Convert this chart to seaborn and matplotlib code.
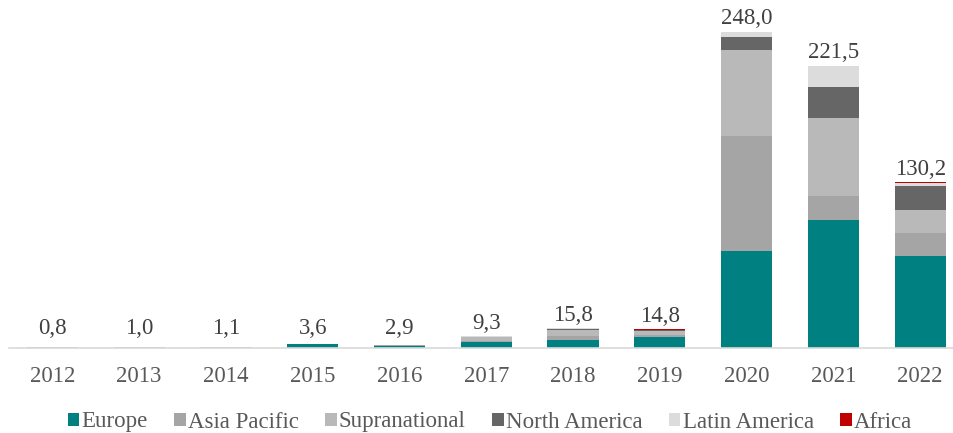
import numpy as np
import pandas as pd
import matplotlib
matplotlib.use("Agg")
import matplotlib.pyplot as plt
import seaborn as sns
from matplotlib.patches import Patch

years = ["2012", "2013", "2014", "2015", "2016", "2017", "2018", "2019", "2020", "2021", "2022"]
europe        = [0.0, 0.0, 0.0, 3.4, 2.0, 5.3, 6.5, 9.2, 76.6, 100.7, 72.4]
asia_pacific  = [0.0, 0.0, 0.0, 0.0, 0.4, 0.5, 3.0, 1.5, 90.0, 18.7, 17.9]
supranational = [0.8, 1.0, 1.1, 0.2, 0.5, 3.0, 4.5, 2.5, 67.5, 61.5, 18.2]
north_america = [0.0, 0.0, 0.0, 0.0, 0.0, 0.2, 1.5, 0.8, 10.0, 24.2, 18.5]
latin_america = [0.0, 0.0, 0.0, 0.0, 0.0, 0.3, 0.3, 0.5, 3.9, 16.2, 2.2]
africa        = [0.0, 0.0, 0.0, 0.0, 0.0, 0.0, 0.0, 0.3, 0.0, 0.2, 1.0]
totals        = [0.8, 1.0, 1.1, 3.6, 2.9, 9.3, 15.8, 14.8, 248.0, 221.5, 130.2]

series_names = ["Europe", "Asia Pacific", "Supranational", "North America", "Latin America", "Africa"]
series_vals = [europe, asia_pacific, supranational, north_america, latin_america, africa]
colors = ["#008080", "#a5a5a5", "#b9b9b9", "#666666", "#dcdcdc", "#c00000"]

sns.set_theme(style="white")
plt.rcParams["font.family"] = ["Liberation Serif", "DejaVu Serif"]

fig = plt.figure(figsize=(9.54, 4.33), dpi=100)
ax = fig.add_axes([9 / 954, 1 - 348.3 / 433, 1 - 9 / 954, 348.3 / 433])

cum = np.cumsum(np.array(series_vals), axis=0)
for i in reversed(range(len(series_names))):
    df = pd.DataFrame({"year": years, "value": cum[i]})
    sns.barplot(data=df, x="year", y="value", color=colors[i], width=0.59,
                saturation=1, ax=ax, linewidth=0, errorbar=None)

for xi, t in enumerate(totals):
    ax.annotate(f"{t:.1f}".replace(".", ","), xy=(xi, max(t, 5.3)),
                xytext=(0, 5.5), textcoords="offset points",
                ha="center", va="baseline", fontsize=16.5, color="#404040")

ax.set_xlim(-0.5, 10.39)
ax.set_ylim(0, 273)
ax.set_xlabel("")
ax.set_ylabel("")
ax.set_yticks([])
for s in ["top", "right", "left"]:
    ax.spines[s].set_visible(False)
ax.spines["bottom"].set_color("#d9d9d9")
ax.spines["bottom"].set_linewidth(1.2)
ax.tick_params(axis="x", length=0, labelsize=16.5, labelcolor="#595959", pad=13)

handles = [Patch(facecolor=c, edgecolor="none", label=n) for n, c in zip(series_names, colors)]
fig.legend(handles=handles, loc="center", bbox_to_anchor=(490 / 954, 1 - 422 / 433), ncol=6,
           frameon=False, fontsize=16.5, handlelength=0.5, handleheight=0.5,
           handletextpad=0.1, columnspacing=1.15, labelcolor="#595959")

fig.savefig("out.png", dpi=100)
